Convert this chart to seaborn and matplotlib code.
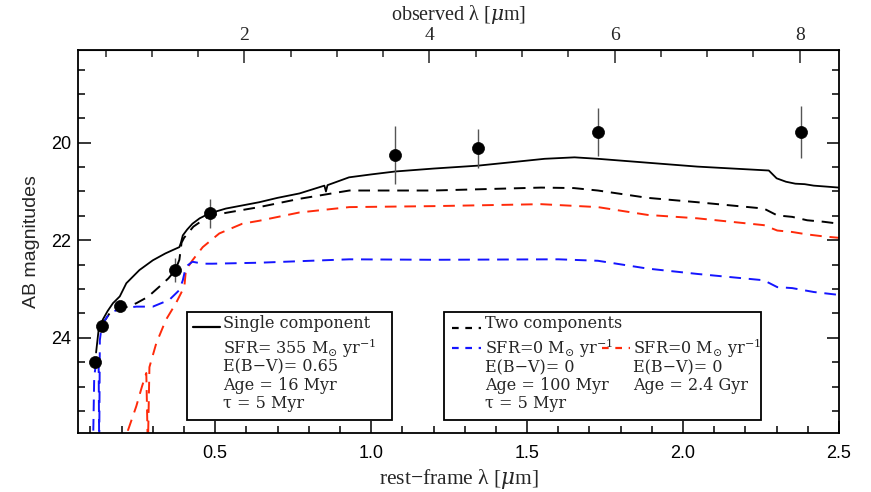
import matplotlib
matplotlib.use("Agg")
import matplotlib.pyplot as plt
import seaborn as sns
from matplotlib.patches import Rectangle
from matplotlib.lines import Line2D
from matplotlib.ticker import MultipleLocator, FixedLocator

# ---- photometry (rest-frame wavelength in micron, AB mag, 1-sigma error) ----
lam_obs = [0.116, 0.138, 0.194, 0.372, 0.484, 1.077, 1.341, 1.727, 2.379]
mag_obs = [24.49, 23.75, 23.34, 22.61, 21.45, 20.25, 20.11, 19.78, 19.78]
err_obs = [0.05, 0.05, 0.05, 0.25, 0.30, 0.60, 0.40, 0.50, 0.53]

# ---- single-component fit ----
lam_single = [0.118, 0.126, 0.140, 0.155, 0.172, 0.194, 0.215, 0.257, 0.300, 0.340,
              0.364, 0.385, 0.390, 0.396, 0.410, 0.427, 0.450, 0.481, 0.534, 0.641,
              0.700, 0.770, 0.850, 0.855, 0.860, 0.929, 1.000, 1.077, 1.200, 1.343,
              1.450, 1.556, 1.652, 1.727, 1.886, 2.046, 2.275, 2.300, 2.330, 2.360,
              2.390, 2.419, 2.460, 2.500]
mag_single = [24.30, 23.84, 23.62, 23.45, 23.29, 23.15, 22.88, 22.61, 22.41, 22.27,
              22.20, 22.14, 22.05, 21.90, 21.78, 21.66, 21.55, 21.45, 21.35, 21.22,
              21.13, 21.04, 20.88, 21.00, 20.87, 20.71, 20.65, 20.59, 20.53, 20.47,
              20.40, 20.33, 20.30, 20.33, 20.41, 20.49, 20.57, 20.73, 20.80, 20.84,
              20.85, 20.88, 20.90, 20.92]

# ---- two-component fit: total ----
lam_two = [0.140, 0.161, 0.194, 0.220, 0.247, 0.284, 0.321, 0.350, 0.372, 0.385,
           0.392, 0.400, 0.430, 0.480, 0.550, 0.641, 0.770, 0.930, 1.200, 1.545,
           1.650, 1.727, 1.886, 2.046, 2.259, 2.302, 2.350, 2.398, 2.450, 2.500]
mag_two = [23.70, 23.50, 23.40, 23.36, 23.29, 23.16, 22.95, 22.78, 22.61, 22.40,
           22.05, 21.95, 21.72, 21.50, 21.42, 21.32, 21.15, 20.98, 20.98, 20.92,
           20.93, 20.98, 21.13, 21.22, 21.35, 21.49, 21.52, 21.59, 21.62, 21.66]

# ---- two-component fit: young burst ----
lam_young = [0.108, 0.112, 0.118, 0.126, 0.128, 0.130, 0.133, 0.140, 0.161, 0.194,
             0.247, 0.300, 0.353, 0.385, 0.396, 0.406, 0.427, 0.460, 0.491, 0.641,
             0.930, 1.200, 1.600, 1.727, 1.886, 2.046, 2.259, 2.302, 2.350, 2.419,
             2.500]
mag_young = [26.30, 24.80, 24.50, 24.40, 26.30, 24.05, 23.90, 23.70, 23.50, 23.40,
             23.36, 23.36, 23.22, 23.02, 22.82, 22.54, 22.44, 22.48, 22.48, 22.46,
             22.39, 22.40, 22.39, 22.42, 22.58, 22.69, 22.82, 22.96, 22.98, 23.06,
             23.12]

# ---- two-component fit: old population ----
lam_old = [0.212, 0.220, 0.247, 0.265, 0.279, 0.284, 0.289, 0.311, 0.342, 0.374,
           0.401, 0.406, 0.427, 0.460, 0.513, 0.587, 0.641, 0.770, 0.930, 1.200,
           1.545, 1.727, 1.886, 2.046, 2.259, 2.302, 2.350, 2.398, 2.450, 2.500]
mag_old = [26.30, 25.90, 25.40, 25.00, 24.72, 26.30, 24.60, 24.11, 23.63, 23.29,
           22.95, 22.61, 22.41, 22.14, 21.86, 21.66, 21.60, 21.43, 21.32, 21.30,
           21.26, 21.32, 21.48, 21.55, 21.69, 21.80, 21.83, 21.88, 21.92, 21.95]

one_plus_z = 3.37

# axis ticks
rest_ticks = [0.5, 1.0, 1.5, 2.0, 2.5]
rest_labels = ["0.5", "1.0", "1.5", "2.0", "2.5"]
obs_ticks = [2, 4, 6, 8]
mag_ticks = [20, 22, 24]

sns.set_style("ticks")
plt.rcParams["font.family"] = ["Liberation Sans", "DejaVu Sans"]
plt.rcParams["mathtext.fontset"] = "dejavuserif"

W, H = 871, 492
fig = plt.figure(figsize=(W / 100, H / 100), dpi=100)
ax = fig.add_axes([78 / W, 59 / H, 761 / W, 383 / H])

BLUE = "#1515ff"
RED = "#ff2a0a"
dash = (0, (6, 4))

common = dict(estimator=None, sort=False, ax=ax, legend=False)
sns.lineplot(x=lam_two, y=mag_two, color="black", lw=1.4, linestyle=dash, **common)
sns.lineplot(x=lam_old, y=mag_old, color=RED, lw=1.4, linestyle=dash, **common)
sns.lineplot(x=lam_young, y=mag_young, color=BLUE, lw=1.4, linestyle=dash, **common)
sns.lineplot(x=lam_single, y=mag_single, color="black", lw=1.3, **common)

ax.errorbar(lam_obs, mag_obs, yerr=err_obs, fmt="none", ecolor="#555555",
            elinewidth=1.0, capsize=0, zorder=4)
sns.scatterplot(x=lam_obs, y=mag_obs, color="black", s=75, edgecolor="black",
                linewidth=0.5, zorder=5, ax=ax, legend=False)

ax.set_xlim(0.06, 2.5)
ax.set_ylim(25.95, 18.1)

ax.xaxis.set_major_locator(FixedLocator(rest_ticks))
ax.set_xticklabels(rest_labels)
ax.xaxis.set_minor_locator(MultipleLocator(0.1))
ax.yaxis.set_major_locator(FixedLocator(mag_ticks))
ax.yaxis.set_minor_locator(MultipleLocator(0.5))

ax.tick_params(axis="both", which="both", direction="in", colors="black",
               width=1.1, labelsize=13)
ax.tick_params(axis="x", which="both", top=False, bottom=True, pad=9)
ax.tick_params(axis="y", which="both", left=True, right=True, pad=5)
ax.tick_params(which="major", length=9)
ax.tick_params(which="minor", length=5)
for sp in ax.spines.values():
    sp.set_linewidth(1.3)
    sp.set_color("black")

sec = ax.secondary_xaxis("top", functions=(lambda x: x * one_plus_z,
                                           lambda x: x / one_plus_z))
sec.xaxis.set_major_locator(FixedLocator(obs_ticks))
sec.xaxis.set_minor_locator(MultipleLocator(0.5))
sec.tick_params(which="both", direction="in", width=1.1, labelsize=14, pad=4)
sec.tick_params(which="major", length=9)
sec.tick_params(which="minor", length=5)
for lab in sec.get_xticklabels():
    lab.set_family("Liberation Serif")
sec.set_xlabel("observed λ [$\\mu$m]", family="Liberation Serif", fontsize=14.5,
               labelpad=5)

ax.set_xlabel("rest−frame λ [$\\mu$m]", family="Liberation Serif", fontsize=15.5,
              labelpad=3)
ax.set_ylabel("AB magnitudes", fontsize=14, labelpad=8)


def fx(px):
    return px / W


def fy(py):
    return 1 - py / H


def box(x0, y0, x1, y1):
    fig.patches.append(Rectangle((fx(x0), fy(y1)), fx(x1) - fx(x0), fy(y0) - fy(y1),
                                 transform=fig.transFigure, facecolor="white",
                                 edgecolor="black", lw=1.3, zorder=10))


def sample(x0, x1, y, color, style):
    fig.lines.append(Line2D([fx(x0), fx(x1)], [fy(y), fy(y)], transform=fig.transFigure,
                            color=color, lw=1.6, linestyle=style, zorder=11))


def label(x, y, s):
    fig.text(fx(x), fy(y), s, family="DejaVu Serif", fontsize=11.5,
             va="center", ha="left", zorder=12)


# single-component key
box(187, 312, 392, 420)
sample(193, 220, 327, "black", "-")
label(223, 323, "Single component")
label(223, 348, "SFR= 355 M$_{\\odot}$ yr$^{-1}$")
label(223, 367, "E(B−V)= 0.65")
label(223, 385, "Age = 16 Myr")
label(223, 403, "τ = 5 Myr")

# two-component key
box(444, 312, 761, 420)
sample(452, 481, 328, "black", (0, (3, 3)))
label(485, 323, "Two components")
sample(452, 481, 348, BLUE, (0, (3, 3)))
label(485, 348, "SFR=0 M$_{\\odot}$ yr$^{-1}$")
label(485, 368, "E(B−V)= 0")
label(485, 385, "Age = 100 Myr")
label(485, 403, "τ = 5 Myr")
sample(602, 630, 348, RED, (0, (3, 3)))
label(633, 348, "SFR=0 M$_{\\odot}$ yr$^{-1}$")
label(633, 368, "E(B−V)= 0")
label(633, 385, "Age = 2.4 Gyr")

fig.savefig("out.png", dpi=100)
